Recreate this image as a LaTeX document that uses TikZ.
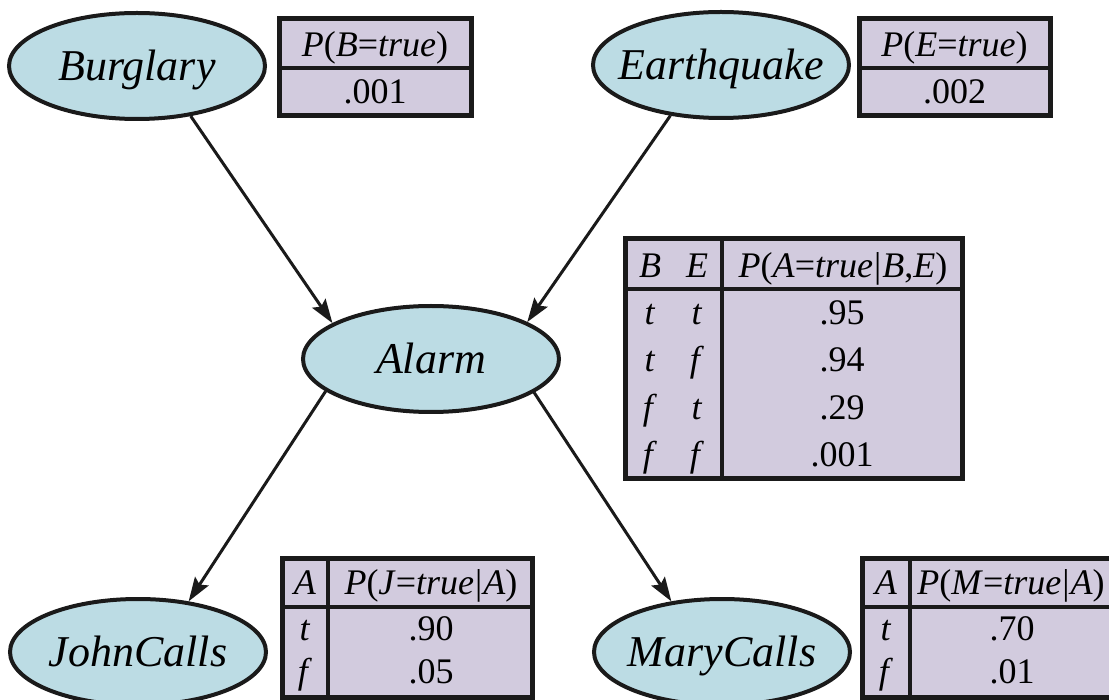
\documentclass[tikz,border=0pt]{standalone}
\usepackage{fontspec}
\setmainfont{Liberation Serif}
\usetikzlibrary{arrows.meta,shapes.geometric}
\definecolor{nodefill}{HTML}{BCDCE4}
\definecolor{cptfill}{HTML}{D2CBDE}
\definecolor{ink}{HTML}{1A1A1A}
% conditioning bar with a little room on both sides
\newcommand{\given}{\kern1pt|\kern1pt}
\begin{document}
\begin{tikzpicture}[x=1pt,y=-1pt,
  var/.style={ellipse, draw=ink, line width=4pt, fill=nodefill,
    minimum width=256pt, minimum height=106pt, inner sep=0pt},
  vartext/.style={inner sep=0pt, font=\fontsize{44}{44}\selectfont\itshape,
    text height=29pt, text depth=0pt},
  edge/.style={draw=ink, line width=3pt, -{Stealth[length=24pt,width=16pt,inset=4pt]}},
  cpt/.style={draw=ink, line width=5pt, fill=cptfill},
  rule/.style={draw=ink, line width=4pt},
  cell/.style={inner sep=0pt, font=\fontsize{36}{36}\selectfont,
    text height=23.5pt, text depth=0pt},
]
\useasboundingbox (0,0) rectangle (1109,700);
\clip (0,0) rectangle (1109,700);
\fill[white] (0,0) rectangle (1109,700);

% variables of the network (ellipse of fixed size, name set on top)
\node[var] (B) at (137,66) {};
\node[vartext] (Bt) at (B) {Burglary};
\node[var] (E) at (721,65) {};
\node[vartext] (Et) at (E) {Earthquake};
\node[var] (A) at (431,359) {};
\node[vartext] (At) at (A) {Alarm};
\node[var] (J) at (138,652) {};
\node[vartext] (Jt) at (J) {JohnCalls};
\node[var] (M) at (722,652) {};
\node[vartext] (Mt) at (M) {MaryCalls};

% causal links
\draw[edge] (B.-43) -- (A.160);
\draw[edge] (E.-135) -- (A.21);
\draw[edge] (A.197) -- (J.45);
\draw[edge] (A.-18) -- (M.135);

% prior for Burglary
\draw[cpt] (279,19) rectangle (471,116);
\draw[rule] (279,68) -- (471,68);
\node[cell] (pb) at (375,45) {\textit{P}(\textit{B}=\textit{true})};
\node[cell] (pbv) at (375,92) {.001};

% prior for Earthquake
\draw[cpt] (859,19) rectangle (1050,116);
\draw[rule] (859,68) -- (1050,68);
\node[cell] (pe) at (954.5,45) {\textit{P}(\textit{E}=\textit{true})};
\node[cell] (pev) at (954.5,92) {.002};

% conditional table for Alarm
\draw[cpt] (625,239) rectangle (962,479);
\draw[rule] (625,289) -- (962,289);
\draw[rule] (722,239) -- (722,479);
\node[cell] (ahb) at (650,266) {\textit{B}};
\node[cell] (ahe) at (697,266) {\textit{E}};
\node[cell] (ahp) at (843,266) {\textit{P}(\textit{A}=\textit{true}\given\textit{B},\textit{E})};
\node[cell] (a1b) at (650,313) {\textit{t}};
\node[cell] (a1e) at (697,313) {\textit{t}};
\node[cell] (a1p) at (842,313) {.95};
\node[cell] (a2b) at (650,360) {\textit{t}};
\node[cell] (a2e) at (697,360) {\textit{f}};
\node[cell] (a2p) at (842,360) {.94};
\node[cell] (a3b) at (650,408) {\textit{f}};
\node[cell] (a3e) at (697,408) {\textit{t}};
\node[cell] (a3p) at (842,408) {.29};
\node[cell] (a4b) at (650,455) {\textit{f}};
\node[cell] (a4e) at (697,455) {\textit{f}};
\node[cell] (a4p) at (842,455) {.001};

% conditional table for JohnCalls
\draw[cpt] (282,558) rectangle (532,697);
\draw[rule] (282,607) -- (532,607);
\draw[rule] (328,558) -- (328,697);
\node[cell] (jha) at (305,583) {\textit{A}};
\node[cell] (jhp) at (431,583) {\textit{P}(\textit{J}=\textit{true}\given\textit{A})};
\node[cell] (j1a) at (305,629) {\textit{t}};
\node[cell] (j1p) at (431,629) {.90};
\node[cell] (j2a) at (305,672) {\textit{f}};
\node[cell] (j2p) at (431,672) {.05};

% conditional table for MaryCalls
\draw[cpt] (862,558) rectangle (1118,697);
\draw[rule] (862,607) -- (1118,607);
\draw[rule] (910,558) -- (910,697);
\node[cell] (mha) at (886,583) {\textit{A}};
\node[cell] (mhp) at (1011,583) {\textit{P}(\textit{M}=\textit{true}\given\textit{A})};
\node[cell] (m1a) at (886,629) {\textit{t}};
\node[cell] (m1p) at (1012,629) {.70};
\node[cell] (m2a) at (886,672) {\textit{f}};
\node[cell] (m2p) at (1012,672) {.01};
\end{tikzpicture}
\end{document}
